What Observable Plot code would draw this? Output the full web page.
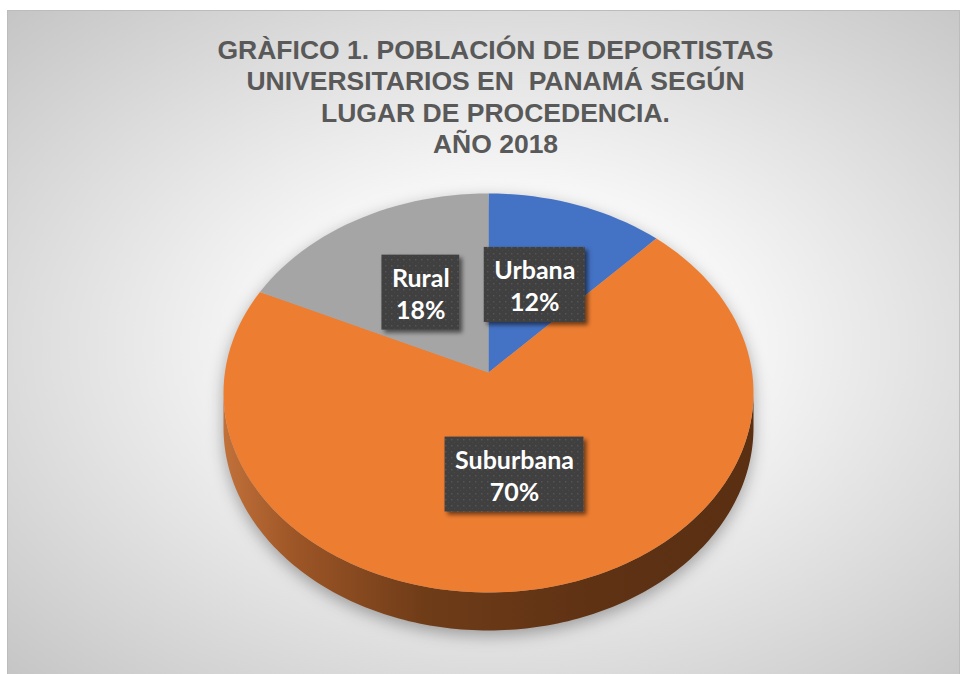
<!DOCTYPE html>
<html>
<head>
<meta charset="utf-8">
<script src="https://cdn.jsdelivr.net/npm/d3@7"></script>
<script src="https://cdn.jsdelivr.net/npm/@observablehq/plot@0.6"></script>
<style>
  html, body { margin: 0; padding: 0; background: #ffffff; }
  #wrap { position: relative; width: 961px; height: 674px; overflow: hidden; }
  #bg { position: absolute; left: 7px; top: 10px; width: 953px; height: 670px;
        box-sizing: border-box; border: 1px solid #bcbcbc;
        background: radial-gradient(farthest-corner at 52% 50%, #ffffff 0%, #fbfbfb 28%, #c5c5c5 100%); }
  #chart { position: absolute; left: 0; top: 0; }
  #chart svg text { white-space: pre; }
</style>
</head>
<body>
<div id="wrap"><div id="bg"></div><div id="chart"></div></div>
<script>
// ---- data ----
const categories = ["Urbana", "Suburbana", "Rural"];
const values = [12, 70, 18];
const colors = ["#4472C4", "#ED7D31", "#A5A5A5"];
const titleLines = [
  "GRÀFICO 1. POBLACIÓN DE DEPORTISTAS",
  "UNIVERSITARIOS EN  PANAMÁ SEGÚN",
  "LUGAR DE PROCEDENCIA.",
  "AÑO 2018"
];

// ---- 3D perspective model of the pie (unit circle in data space) ----
const K = 0.1027;      // perspective strength
const DEPTH = 0.1727;  // pie thickness (data units)
function proj(aDeg, r, drop = 0) {
  const t = aDeg * Math.PI / 180;
  const u = r * Math.sin(t), v = -r * Math.cos(t);
  const w = 1 - K * v;
  return {x: u / w, y: (v + drop) / w};
}

const total = d3.sum(values);
let acc = 0;
const slices = categories.map((c, i) => {
  const a0 = acc / total * 360;
  acc += values[i];
  const a1 = acc / total * 360;
  return {c, value: values[i], pct: Math.round(values[i] / total * 100), a0, a1, mid: (a0 + a1) / 2};
});

const STEPS = 160;
const topFace = slices.flatMap(s => {
  const pts = [{...proj(0, 0), c: s.c}];
  const n = Math.max(4, Math.ceil((s.a1 - s.a0) / 360 * STEPS));
  for (let j = 0; j <= n; j++) pts.push({...proj(s.a0 + (s.a1 - s.a0) * j / n, 1), c: s.c});
  return pts;
});

// silhouette angles (left / right extremes)
const aRight = Math.acos(-K) * 180 / Math.PI;
const aLeft = 360 - aRight;
const side = [];
for (let j = 0; j <= STEPS; j++) side.push(proj(aRight + (aLeft - aRight) * j / STEPS, 1));
for (let j = STEPS; j >= 0; j--) side.push(proj(aRight + (aLeft - aRight) * j / STEPS, 1, DEPTH));

const outline = [];
for (let j = 0; j <= STEPS; j++) outline.push(proj(aLeft + (360 - aLeft + aRight) * j / STEPS, 1));
for (let j = 0; j <= STEPS; j++) outline.push(proj(aRight + (aLeft - aRight) * j / STEPS, 1, DEPTH));

// label boxes sized from measured text
const FS = 25;
const ctx = document.createElement("canvas").getContext("2d");
ctx.font = `bold ${FS}px Lato`;
const SX = 263.6, SY = 197.4; // px per data unit
const labels = slices.map(s => {
  const p = proj(s.mid, 0.5);
  const w = Math.max(ctx.measureText(s.c).width, ctx.measureText(s.pct + "%").width) + 20;
  const h = 75;
  return {...s, x: p.x, y: p.y, x1: p.x - w / 2 / SX, x2: p.x + w / 2 / SX, y1: p.y - h / 2 / SY, y2: p.y + h / 2 / SY,
          label: s.c + "\n" + s.pct + "%"};
});

const chart = Plot.plot({
  width: 961,
  height: 674,
  margin: 0,
  style: {background: "transparent", overflow: "visible"},
  x: {domain: [-1, 1], range: [488 - SX, 488 + SX], axis: null},
  y: {domain: [-1, 1], range: [372 - SY, 372 + SY], axis: null},
  color: {domain: categories, range: colors},
  marks: [
    Plot.line(outline, {x: "x", y: "y", fill: "#000", fillOpacity: 0.32, stroke: "none", dy: 5}),
    Plot.line(side, {x: "x", y: "y", fill: "url(#sideGrad)", stroke: "none"}),
    Plot.line(topFace, {x: "x", y: "y", z: "c", fill: "c", stroke: "none"}),
    Plot.rect(labels, {x1: "x1", x2: "x2", y1: "y1", y2: "y2", fill: "url(#dots)"}),
    Plot.text(labels, {x: "x", y: "y", text: "label", fill: "#ffffff", fontSize: FS, fontWeight: "bold",
                       fontFamily: "Lato, 'Open Sans', sans-serif", lineHeight: 1.28}),
    Plot.text([titleLines.join("\n")], {frameAnchor: "top", dx: 14.5, dy: 36, lineAnchor: "top", lineHeight: 1.185,
      text: d => d, fontSize: 26.5, fontWeight: "bold", fill: "#595959",
      fontFamily: "'Liberation Sans', Arial, sans-serif"})
  ]
});

const svg = d3.select(chart);
svg.insert("defs", ":first-child").html(`
  <linearGradient id="sideGrad" gradientUnits="userSpaceOnUse" x1="222" y1="0" x2="753" y2="0">
    <stop offset="0" stop-color="#c2713a"/>
    <stop offset="0.14" stop-color="#9c5526"/>
    <stop offset="0.38" stop-color="#6f3c18"/>
    <stop offset="0.7" stop-color="#5f3214"/>
    <stop offset="1" stop-color="#5a2f12"/>
  </linearGradient>
  <pattern id="dots" patternUnits="userSpaceOnUse" width="6" height="6">
    <rect width="6" height="6" fill="#3f3f3f"/>
    <rect x="1" y="1" width="1.5" height="1.5" fill="#555555"/>
    <rect x="4" y="4" width="1.2" height="1.2" fill="#4a4a4a"/>
  </pattern>
  <filter id="pieShadow" x="-20%" y="-20%" width="140%" height="140%">
    <feGaussianBlur stdDeviation="8"/>
  </filter>
  <filter id="boxShadow" x="-20%" y="-20%" width="150%" height="150%">
    <feDropShadow dx="3" dy="3" stdDeviation="2" flood-color="#000" flood-opacity="0.55"/>
  </filter>
`);
const lineGroups = svg.selectAll('g[aria-label="line"]').nodes();
if (lineGroups[0]) d3.select(lineGroups[0]).attr("filter", "url(#pieShadow)");
svg.select('g[aria-label="rect"]').attr("filter", "url(#boxShadow)");

document.getElementById("chart").appendChild(chart);
</script>
</body>
</html>
